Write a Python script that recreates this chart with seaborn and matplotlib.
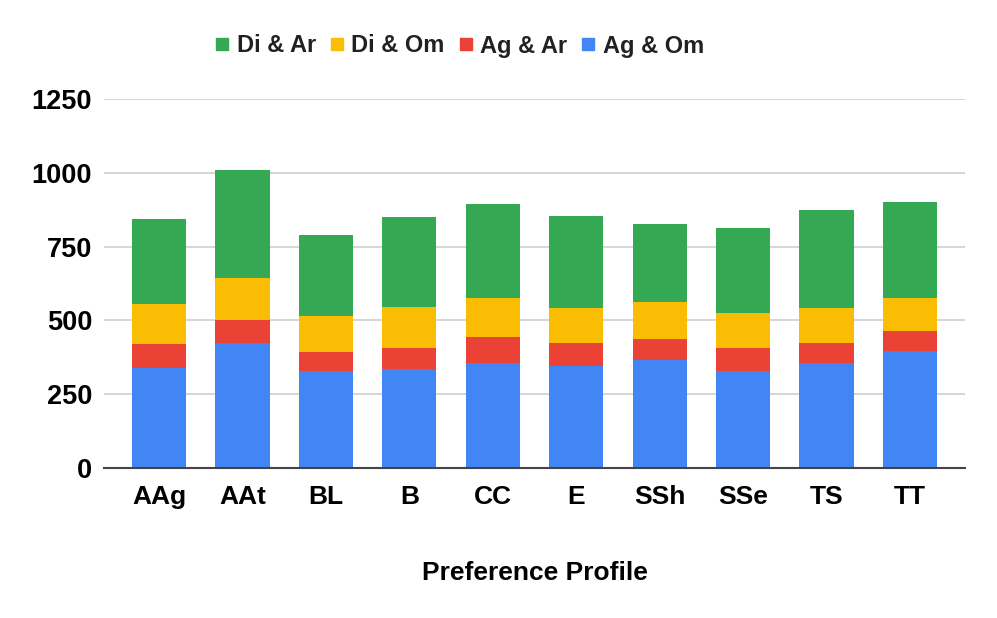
import matplotlib
matplotlib.use("Agg")
import matplotlib.pyplot as plt
import seaborn as sns
import pandas as pd
import numpy as np
from matplotlib.lines import Line2D

categories = ["AAg", "AAt", "BL", "B", "CC", "E", "SSh", "SSe", "TS", "TT"]
ag_om = [339, 423, 330, 334, 357, 346, 365, 330, 354, 395]
ag_ar = [80, 77, 63, 74, 86, 76, 73, 78, 69, 69]
di_om = [138, 143, 123, 138, 134, 120, 124, 118, 119, 113]
di_ar = [285, 368, 272, 304, 319, 312, 266, 286, 331, 323]

series_names = ["Ag & Om", "Ag & Ar", "Di & Om", "Di & Ar"]
colors = {"Ag & Om": "#4285F4", "Ag & Ar": "#EA4335",
          "Di & Om": "#FBBC04", "Di & Ar": "#34A853"}

sns.set_theme(style="white")
plt.rcParams['font.family'] = ['Liberation Sans', 'DejaVu Sans']
plt.rcParams['text.color'] = 'black'
plt.rcParams['axes.labelcolor'] = 'black'

df = pd.DataFrame({"cat": categories, "Ag & Om": ag_om, "Ag & Ar": ag_ar,
                   "Di & Om": di_om, "Di & Ar": di_ar})
cum = df[series_names].cumsum(axis=1)

fig = plt.figure(figsize=(9.97, 6.18), dpi=100)
ax = fig.add_axes([104/997, 1-468/618, (965-104)/997, (468-99)/618])

for name in reversed(series_names):
    sns.barplot(x=df["cat"], y=cum[name], color=colors[name], width=0.65,
                ax=ax, saturation=1, order=categories, zorder=2,
                linewidth=0, edgecolor="none")

ax.set_xlim(-0.66, 9.66)
ax.set_ylim(0, 1250)
ax.set_yticks([0, 250, 500, 750, 1000, 1250])
ax.yaxis.grid(True, color="#d0d0d0", linewidth=1.2, zorder=0)
ax.set_axisbelow(True)
for s in ["top", "right", "left"]:
    ax.spines[s].set_visible(False)
ax.spines["bottom"].set_color("#444444")
ax.spines["bottom"].set_linewidth(1.5)
ax.spines["bottom"].set_zorder(3)
ax.tick_params(axis="both", length=0, colors="black")
ax.tick_params(axis="y", pad=8.5, labelsize=19.5)
ax.tick_params(axis="x", pad=12, labelsize=19)
for lab in ax.get_xticklabels() + ax.get_yticklabels():
    lab.set_fontweight("bold")
    lab.set_color("black")
ax.set_ylabel("")
ax.set_xlabel("Preference Profile", fontsize=19, fontweight="bold",
              color="black", labelpad=37.5)

legend_order = ["Di & Ar", "Di & Om", "Ag & Ar", "Ag & Om"]
handles = [Line2D([0], [0], marker="s", linestyle="none", markersize=9,
                  markerfacecolor=colors[n], markeredgecolor=colors[n])
           for n in legend_order]
leg = fig.legend(handles, legend_order, loc="center",
                 bbox_to_anchor=(459/997, 1-46/618),
                 ncol=4, frameon=False, handlelength=0.7, handletextpad=0.25,
                 columnspacing=0.55,
                 prop={"family": "Liberation Sans", "weight": "bold", "size": 17})
for t in leg.get_texts():
    t.set_color("#202124")

fig.savefig("out.png", dpi=100)
